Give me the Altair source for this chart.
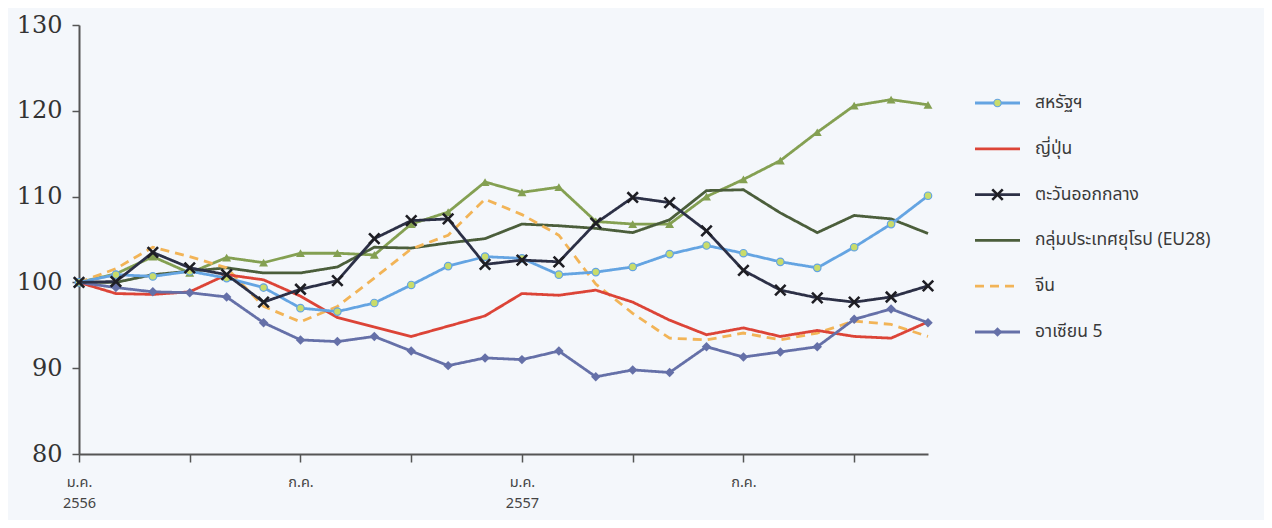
import altair as alt
import pandas as pd

# ---- data (index, Jan 2556 = 100) ----
months = list(range(24))
series_names = ["สหรัฐฯ", "ญี่ปุ่น", "ตะวันออกกลาง", "กลุ่มประเทศยุโรป (EU28)", "จีน", "อาเซียน 5"]
us = [100, 100.9, 100.7, 101.3, 100.5, 99.4, 97.0, 96.6, 97.6, 99.7, 101.9, 103.0,
      102.8, 100.9, 101.2, 101.8, 103.3, 104.3, 103.4, 102.4, 101.7, 104.1, 106.8, 110.1]
japan = [100, 98.7, 98.6, 98.9, 100.9, 100.3, 98.4, 95.9, 94.8, 93.7, 94.9, 96.1,
         98.7, 98.5, 99.1, 97.7, 95.6, 93.9, 94.7, 93.7, 94.4, 93.7, 93.5, 95.4]
middle_east = [100, 100.1, 103.5, 101.7, 100.9, 97.7, 99.2, 100.2, 105.1, 107.2, 107.4, 102.1,
               102.6, 102.4, 106.9, 109.9, 109.3, 106.0, 101.4, 99.1, 98.2, 97.7, 98.3, 99.6]
eu28 = [100, 100.0, 100.9, 101.3, 101.7, 101.1, 101.1, 101.8, 104.1, 104.0, 104.6, 105.1,
        106.8, 106.6, 106.3, 105.8, 107.3, 110.7, 110.8, 108.1, 105.8, 107.8, 107.4, 105.7]
china = [100, 101.6, 104.1, 103.0, 101.7, 97.2, 95.4, 97.2, 100.5, 103.9, 105.5, 109.7,
         107.9, 105.5, 99.8, 96.4, 93.5, 93.3, 94.1, 93.3, 94.1, 95.5, 95.1, 93.7]
asean5 = [100, 99.4, 98.9, 98.8, 98.3, 95.3, 93.3, 93.1, 93.7, 92.0, 90.3, 91.2,
          91.0, 92.0, 89.0, 89.8, 89.5, 92.5, 91.3, 91.9, 92.5, 95.7, 96.9, 95.3]
other = [100, 101.0, 103.0, 101.1, 102.9, 102.3, 103.4, 103.4, 103.2, 106.8, 108.2, 111.7,
         110.5, 111.1, 107.1, 106.8, 106.8, 110.0, 112.0, 114.2, 117.5, 120.6, 121.3, 120.7]

x_ticks = [0, 3, 6, 9, 12, 15, 18, 21]
x_tick_labels = {0: ["ม.ค.", "2556"], 6: ["ก.ค."], 12: ["ม.ค.", "2557"], 18: ["ก.ค."]}
y_ticks = [80, 90, 100, 110, 120, 130]

# ---- styles ----
THAI = "Noto Sans Thai, Loma, Garuda, Noto Sans, sans-serif"
SERIF = "DejaVu Serif"
BG = "#f4f7fb"
AX = "#555555"

styles = {
    "other": dict(color="#84a052", dash=[1, 0], shape="triangle-up", fill="#84a052", size=80, sw=0),
    "eu": dict(color="#4b5e3b", dash=[1, 0], shape=None),
    "china": dict(color="#f2b457", dash=[9, 6], shape=None),
    "japan": dict(color="#dc4437", dash=[1, 0], shape=None),
    "asean": dict(color="#6570a8", dash=[1, 0], shape="diamond", fill="#6570a8", size=90, sw=0),
    "us": dict(color="#64a4e2", dash=[1, 0], shape="circle", fill="#c9dc6a", size=56, sw=1.2),
    "me": dict(color="#2c3046", dash=[1, 0], shape="M-1,-1L1,1M-1,1L1,-1", fill=None, size=110, sw=2.6),
}
series_vals = {"other": other, "eu": eu28, "china": china, "japan": japan,
               "asean": asean5, "us": us, "me": middle_east}

xs = alt.Scale(domain=[0, 23], nice=False, zero=False)
ys = alt.Scale(domain=[80, 130], nice=False, zero=False)

x_label_expr = " : ".join(
    f"datum.value == {k} ? {v!r}" for k, v in x_tick_labels.items()
) + " : ''"

first = True
layers = []
for key, vals in series_vals.items():
    st = styles[key]
    df = pd.DataFrame({"m": months, "v": vals})
    if first:
        xenc = alt.X("m:Q", scale=xs, axis=alt.Axis(
            values=x_ticks, labelExpr=x_label_expr, title=None, grid=False,
            domainColor=AX, domainWidth=2, tickColor=AX, tickWidth=1.5, tickSize=8,
            labelFont=THAI, labelFontSize=14.5, labelColor="#444", labelPadding=13,
            labelAlign="center", labelLineHeight=21, labelFlush=False))
        yenc = alt.Y("v:Q", scale=ys, axis=alt.Axis(
            values=y_ticks, title=None, grid=False, domainColor=AX, domainWidth=2,
            tickColor=AX, tickWidth=1.5, tickSize=7, labelFont=SERIF, labelFontSize=24,
            labelColor="#333", labelPadding=10))
        first = False
    else:
        xenc = alt.X("m:Q", scale=xs)
        yenc = alt.Y("v:Q", scale=ys)
    line = alt.Chart(df).mark_line(color=st["color"], strokeWidth=2.8,
                                   strokeDash=st["dash"]).encode(x=xenc, y=yenc)
    layers.append(line)
    if st["shape"]:
        if st["fill"]:
            pt = alt.Chart(df).mark_point(shape=st["shape"], filled=True, fill=st["fill"],
                                          stroke=st["color"], strokeWidth=st["sw"],
                                          size=st["size"], opacity=1)
        else:
            pt = alt.Chart(df).mark_point(shape=st["shape"], filled=False, stroke="#1e1e24",
                                          strokeWidth=st["sw"], size=st["size"], opacity=1)
        layers.append(pt.encode(x=alt.X("m:Q", scale=xs), y=alt.Y("v:Q", scale=ys)))

main = alt.layer(*layers)

# ---- legend (own scales) ----
legend_keys = ["us", "japan", "me", "eu", "china", "asean"]
lx = alt.Scale(domain=[0, 1], range=[896, 941])
ly = alt.Scale(domain=[0, 5], range=[78, 307])
leg_layers = []
for i, (key, name) in enumerate(zip(legend_keys, series_names)):
    st = styles[key]
    seg = pd.DataFrame({"x": [0, 1], "row": [i, i]})
    leg_layers.append(alt.Chart(seg).mark_line(color=st["color"], strokeWidth=2.8,
                                               strokeDash=st["dash"]).encode(
        x=alt.X("x:Q", scale=lx, axis=None), y=alt.Y("row:Q", scale=ly, axis=None)))
    mid = pd.DataFrame({"x": [0.5], "row": [i]})
    if st["shape"]:
        if st["fill"]:
            pt = alt.Chart(mid).mark_point(shape=st["shape"], filled=True, fill=st["fill"],
                                           stroke=st["color"], strokeWidth=st["sw"],
                                           size=st["size"], opacity=1)
        else:
            pt = alt.Chart(mid).mark_point(shape=st["shape"], filled=False, stroke="#1e1e24",
                                           strokeWidth=st["sw"], size=st["size"], opacity=1)
        leg_layers.append(pt.encode(x=alt.X("x:Q", scale=lx, axis=None),
                                    y=alt.Y("row:Q", scale=ly, axis=None)))
    txt = pd.DataFrame({"x": [1], "row": [i], "label": [name]})
    leg_layers.append(alt.Chart(txt).mark_text(align="left", baseline="middle", dx=15,
                                               font=THAI, fontSize=17.5, color="#3a3a3a").encode(
        x=alt.X("x:Q", scale=lx, axis=None), y=alt.Y("row:Q", scale=ly, axis=None),
        text="label:N"))
legend = alt.layer(*leg_layers)

chart = alt.layer(main, legend).resolve_scale(x="independent", y="independent").properties(
    width=849, height=429,
    autosize=alt.AutoSizeParams(type="none"),
    padding={"left": 71, "top": 17, "right": 336, "bottom": 66},
    background=BG,
).configure_view(stroke=None)

chart.save("out.html", embed_options={"renderer": "svg", "actions": False})
